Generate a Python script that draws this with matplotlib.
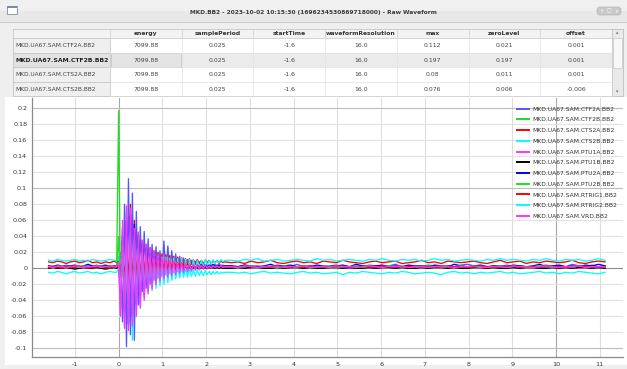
import numpy as np
import matplotlib
matplotlib.use("Agg")
import matplotlib.pyplot as plt
from matplotlib.patches import Rectangle, FancyBboxPatch

W, H = 627, 369

window_title = "MKD.BB2 - 2023-10-02 10:15:30 (1696234530869718000) - Raw Waveform"

# ---- table data
columns = ["energy", "samplePeriod", "startTime", "waveformResolution", "max", "zeroLevel", "offset"]
row_names = ["MKD.UA67.SAM.CTF2A.BB2", "MKD.UA67.SAM.CTF2B.BB2",
             "MKD.UA67.SAM.CTS2A.BB2", "MKD.UA67.SAM.CTS2B.BB2"]
energy = [7099.88, 7099.88, 7099.88, 7099.88]
sample_period = [0.025, 0.025, 0.025, 0.025]
start_time = [-1.6, -1.6, -1.6, -1.6]
waveform_resolution = [16.0, 16.0, 16.0, 16.0]
max_values = [0.112, 0.197, 0.08, 0.076]
zero_level = [0.021, 0.197, 0.011, 0.006]
offset = [0.001, 0.001, 0.001, -0.006]

# ---- waveforms, values in thousandths
# pre: -1.6 .. -0.1, event: from -0.045 in steps of 0.045, tail: 2.55 .. 11.1
channels = ["MKD.UA67.SAM.CTF2A.BB2", "MKD.UA67.SAM.CTF2B.BB2", "MKD.UA67.SAM.CTS2A.BB2",
            "MKD.UA67.SAM.CTS2B.BB2", "MKD.UA67.SAM.PTU1A.BB2", "MKD.UA67.SAM.PTU1B.BB2",
            "MKD.UA67.SAM.PTU2A.BB2", "MKD.UA67.SAM.PTU2B.BB2", "MKD.UA67.SAM.RTRIG1.BB2",
            "MKD.UA67.SAM.RTRIG2.BB2", "MKD.UA67.SAM.VRD.BB2"]
colors = ["#5555ff", "#22dd22", "#ff0000", "#00ffff", "#ff33ff", "#000000",
          "#0000ee", "#22dd22", "#ff0000", "#00ffff", "#ff33ff"]

ctf2a_pre = [2, 3, 1, 2, 4, 2, 3, 1, 2, 3, 2, 4, 2, 1, 3, 2]
ctf2a_event = [2, 5, 20, -67, 80, -98, 112, -83, 94, -90,
               71, -46, 52, -29, 46, -25, 37, -20, 30, -15,
               27, -12, 22, -10, 34, -8, 28, -6, 22, -5,
               18, -4, 15, -3, 13, -2, 11, -1, 10, 0,
               9, 0, 8, 1, 7, 1, 6, 1, 6, 2,
               5, 2, 5, 2, 4, 3]
ctf2a_tail = [3, 2, 4, 2, 3, 1, 2, 4, 3, 2, 5, 2, 3, 1, 2, 3, 4, 2, 1, 3,
              2, 4, 3, 2, 3, 5, 2, 3, 1, 2, 4, 3, 2, 3, 2, 4, 5, 3, 2, 1,
              3, 2, 4, 2, 3, 2, 1, 3, 4, 2, 3, 2, 5, 3, 2, 4, 2, 3]

ctf2b_pre = [1, 0, 2, 1, 1, 2, 0, 1, 2, 1, 0, 1, 2, 1, 1, 0]
ctf2b_event = [1, 197, -50, 40, -35, 30, -28, 45, -20, 38,
               -18, 25, -15, 20, -12, 15, -10, 12, -8, 10,
               -6, 9, -5, 8, -4, 7, -3, 6, -2, 5,
               -2, 4, -1, 4, 0, 3, 0, 3, 1, 3,
               1, 2, 1, 2, 1, 2, 0, 2, 1, 2,
               0, 2, 1, 1, 0, 1]
ctf2b_tail = [1, 0, 2, 1, 1, 0, 2, 1, 0, 1, 2, 1, 0, 1, 2, 0, 1, 1, 2, 0,
              1, 2, 1, 0, 1, 1, 2, 1, 0, 2, 1, 0, 1, 2, 1, 1, 0, 2, 1, 1,
              0, 1, 2, 1, 0, 1, 1, 2, 0, 1, 1, 2, 1, 0, 1, 2, 1, 1]

cts2a_pre = [8, 7, 9, 8, 6, 8, 9, 7, 8, 10, 7, 8, 6, 8, 7, 9]
cts2a_event = [7, 10, -20, 35, -50, 60, -45, 80, -55, 60,
               -40, 45, -35, 35, -25, 30, -20, 26, -15, 22,
               -10, 20, -8, 18, -5, 17, -3, 16, -2, 15,
               0, 14, 2, 13, 3, 12, 4, 12, 5, 11,
               5, 11, 6, 10, 6, 10, 7, 10, 6, 9,
               7, 10, 6, 9, 7, 8]
cts2a_tail = [7, 8, 6, 9, 7, 8, 10, 7, 6, 8, 9, 7, 8, 6, 9, 8, 7, 10, 8, 7,
              6, 8, 9, 7, 8, 9, 6, 7, 8, 10, 7, 8, 6, 9, 8, 7, 8, 9, 7, 6,
              8, 10, 7, 8, 9, 6, 8, 7, 9, 8, 7, 8, 10, 7, 6, 8, 9, 8]

cts2b_pre = [10, 9, 11, 10, 9, 10, 11, 9, 10, 9, 11, 10, 9, 10, 11, 10]
cts2b_event = [9, 15, -30, 50, -60, 76, -70, 60, -90, 50,
               -55, 35, -45, 25, -35, 20, -30, 18, -28, 16,
               -25, 15, -22, 14, -20, 14, -18, 13, -15, 13,
               -12, 12, -10, 12, -8, 11, -6, 11, -4, 11,
               -2, 10, 0, 10, 2, 11, 4, 10, 5, 11,
               6, 10, 7, 11, 8, 10]
cts2b_tail = [10, 9, 11, 10, 12, 9, 10, 11, 9, 10, 11, 10, 9, 12, 10, 11, 9, 10, 11, 10,
              9, 11, 10, 12, 10, 9, 11, 10, 11, 9, 10, 12, 10, 11, 9, 10, 11, 10, 9, 11,
              10, 12, 10, 11, 10, 9, 11, 10, 12, 10, 9, 11, 10, 11, 9, 10, 12, 10]

ptu1a_pre = [1, 2, 0, 1, 2, 1, 3, 1, 0, 2, 1, 1, 2, 0, 1, 2]
ptu1a_event = [1, 5, -60, 60, -75, 78, -70, 75, -65, 55,
               -50, 45, -45, 35, -35, 30, -28, 25, -22, 20,
               -18, 17, -15, 14, -12, 12, -10, 10, -8, 9,
               -7, 8, -6, 7, -5, 6, -4, 5, -3, 4,
               -2, 4, -2, 3, -1, 3, -1, 3, 0, 2,
               0, 2, 1, 2, 0, 1]
ptu1a_tail = [1, 2, 0, 1, 2, 1, 0, 2, 1, 1, 2, 0, 1, 2, 1, 1, 3, 1, 0, 1,
              2, 1, 1, 0, 2, 1, 2, 1, 0, 1, 1, 2, 0, 1, 2, 1, 1, 2, 0, 1,
              2, 1, 0, 1, 1, 2, 1, 0, 2, 1, 1, 2, 1, 0, 1, 2, 1, 1]

ptu1b_pre = [0, 1, 0, 0, 1, 0, -1, 0, 1, 0, 0, 1, 0, -1, 0, 1]
ptu1b_event = [0, 3, -20, 25, -30, 30, -25, 28, -22, 20,
               -18, 15, -14, 12, -10, 10, -8, 8, -6, 6,
               -5, 5, -4, 4, -3, 4, -3, 3, -2, 3,
               -2, 2, -1, 2, -1, 2, 0, 1, 0, 1,
               0, 1, 0, 1, 0, 1, 0, 1, 0, 1,
               0, 1, 0, 1, 0, 0]
ptu1b_tail = [0, 1, 0, 1, 1, 0, 0, 1, 0, 1, 1, 0, 1, 0, 0, 1, 1, 0, 1, 0,
              0, 1, 0, 1, 1, 0, 1, 0, 0, 1, 0, 1, 1, 0, 1, 0, 0, 1, 1, 0,
              1, 0, 0, 1, 0, 1, 1, 0, 0, 1, 0, 1, 0, 1, 1, 0, 1, 0]

ptu2a_pre = [3, 2, 4, 3, 2, 3, 4, 2, 3, 5, 3, 2, 3, 4, 2, 3]
ptu2a_event = [3, 8, -30, 40, -55, 60, -70, 65, -60, 55,
               -45, 40, -35, 30, -28, 25, -20, 18, -15, 15,
               -12, 12, -10, 10, -8, 9, -7, 8, -6, 7,
               -5, 6, -4, 6, -3, 5, -2, 5, -1, 4,
               0, 4, 1, 5, 1, 4, 2, 4, 2, 5,
               2, 4, 3, 4, 2, 3]
ptu2a_tail = [3, 2, 4, 3, 2, 3, 5, 2, 3, 4, 2, 3, 2, 4, 3, 2, 3, 4, 2, 5,
              3, 2, 3, 4, 2, 3, 2, 4, 3, 3, 2, 4, 3, 2, 5, 3, 2, 3, 4, 2,
              3, 3, 2, 4, 3, 2, 3, 5, 2, 3, 4, 2, 3, 2, 4, 3, 5, 3]

ptu2b_pre = [2, 1, 2, 3, 1, 2, 2, 1, 3, 2, 1, 2, 3, 2, 1, 2]
ptu2b_event = [2, 40, -40, 30, -45, 35, -40, 30, -30, 40,
               -25, 22, -20, 18, -15, 15, -12, 12, -10, 10,
               -8, 8, -6, 7, -5, 6, -4, 5, -3, 5,
               -2, 4, -1, 4, 0, 3, 1, 3, 1, 3,
               2, 3, 2, 2, 2, 3, 1, 2, 2, 3,
               1, 2, 2, 3, 1, 2]
ptu2b_tail = [2, 1, 2, 3, 1, 2, 2, 1, 3, 2, 1, 2, 2, 1, 3, 2, 1, 2, 2, 3,
              1, 2, 1, 2, 3, 2, 1, 2, 2, 1, 3, 2, 1, 2, 2, 3, 1, 2, 1, 2,
              2, 3, 1, 2, 2, 1, 2, 3, 2, 1, 2, 2, 1, 3, 2, 1, 2, 2]

rtrig1_pre = [1, 2, 1, 0, 2, 1, 1, 3, 1, 0, 1, 2, 1, 1, 0, 2]
rtrig1_event = [1, 5, -25, 30, -35, 40, -30, 35, -30, 30,
                -25, 25, -20, 20, -15, 18, -12, 15, -10, 12,
                -8, 10, -6, 9, -5, 8, -4, 7, -3, 6,
                -2, 5, -1, 5, 0, 4, 0, 4, 1, 3,
                1, 3, 1, 3, 2, 3, 1, 2, 2, 3,
                1, 2, 2, 3, 1, 2]
rtrig1_tail = [2, 1, 3, 2, 1, 2, 2, 3, 1, 2, 2, 1, 3, 2, 2, 1, 2, 3, 2, 1,
               2, 2, 1, 3, 2, 1, 2, 2, 3, 1, 2, 1, 2, 3, 2, 2, 1, 2, 3, 2,
               1, 2, 2, 3, 1, 2, 2, 1, 3, 2, 2, 1, 2, 3, 2, 1, 2, 2]

rtrig2_pre = [-5, -6, -4, -5, -7, -5, -4, -6, -5, -4, -6, -5, -7, -5, -4, -5]
rtrig2_event = [-5, 0, -25, 30, -45, 40, -60, 45, -50, 35,
                -40, 25, -30, 20, -28, 15, -25, 12, -22, 10,
                -20, 8, -18, 6, -16, 5, -15, 4, -14, 3,
                -13, 2, -12, 1, -11, 0, -11, -1, -10, -2,
                -10, -2, -9, -3, -9, -3, -8, -4, -8, -4,
                -7, -4, -7, -5, -6, -5]
rtrig2_tail = [-5, -6, -5, -7, -5, -4, -6, -5, -6, -7, -5, -4, -6, -5, -7, -6, -5, -8, -5, -6,
               -4, -5, -6, -7, -5, -6, -4, -5, -7, -6, -5, -6, -8, -5, -4, -6, -5, -7, -5, -6,
               -5, -4, -6, -5, -7, -6, -5, -4, -6, -5, -7, -5, -6, -4, -5, -6, -7, -5]

vrd_pre = [2, 1, 3, 2, 1, 2, 3, 2, 1, 2, 2, 3, 1, 2, 3, 2]
vrd_event = [2, 8, -50, 50, -70, 70, -78, 65, -72, 50,
             -60, 40, -50, 30, -40, 25, -32, 20, -26, 16,
             -20, 14, -16, 12, -13, 10, -11, 9, -9, 8,
             -8, 7, -6, 6, -5, 6, -4, 5, -3, 5,
             -2, 4, -1, 4, -1, 4, 0, 3, 0, 3,
             1, 3, 1, 3, 1, 2]
vrd_tail = [2, 1, 3, 2, 1, 2, 3, 2, 1, 2, 2, 3, 1, 2, 2, 1, 3, 2, 2, 1,
            2, 3, 2, 1, 2, 2, 3, 1, 2, 2, 1, 2, 3, 2, 1, 2, 2, 3, 2, 1,
            2, 2, 1, 3, 2, 2, 1, 2, 3, 2, 1, 2, 2, 3, 1, 2, 2, 2]

series = [
    (ctf2a_pre, ctf2a_event, ctf2a_tail), (ctf2b_pre, ctf2b_event, ctf2b_tail),
    (cts2a_pre, cts2a_event, cts2a_tail), (cts2b_pre, cts2b_event, cts2b_tail),
    (ptu1a_pre, ptu1a_event, ptu1a_tail), (ptu1b_pre, ptu1b_event, ptu1b_tail),
    (ptu2a_pre, ptu2a_event, ptu2a_tail), (ptu2b_pre, ptu2b_event, ptu2b_tail),
    (rtrig1_pre, rtrig1_event, rtrig1_tail), (rtrig2_pre, rtrig2_event, rtrig2_tail),
    (vrd_pre, vrd_event, vrd_tail),
]


def times(pre, event, tail):
    t1 = np.linspace(-1.6, -0.1, len(pre))
    t2 = -0.045 + 0.045 * np.arange(len(event))
    t3 = np.linspace(t2[-1] + 0.15, 11.12, len(tail))
    return np.concatenate([t1, t2, t3])


fig = plt.figure(figsize=(W / 100, H / 100), dpi=100, facecolor="#efefef")

# overlay in pixel coordinates for the window chrome and the table
bg = fig.add_axes([0, 0, 1, 1])
bg.set_xlim(0, W)
bg.set_ylim(H, 0)
bg.axis("off")

# title bar
bg.add_patch(Rectangle((0, 2), W, 20, facecolor="#e8e8e8", edgecolor="none"))
bg.add_patch(Rectangle((0, 2), W, 9, facecolor="#f0f0f0", edgecolor="none"))
bg.plot([0, W], [22, 22], color="#c8c8c8", lw=0.6)
bg.add_patch(Rectangle((7, 6), 10, 8, facecolor="white", edgecolor="#7a8aa8", lw=0.6))
bg.add_patch(Rectangle((7, 6), 10, 2, facecolor="#7a8aa8", edgecolor="none"))
bg.text(313, 12.5, window_title, ha="center", va="center", fontsize=4.2,
        fontweight="bold", color="#3a3a3a")
bg.add_patch(FancyBboxPatch((597, 7), 24, 8, boxstyle="round,pad=0,rounding_size=3",
                            facecolor="#c9c9c9", edgecolor="#b5b5b5", lw=0.5))
for bx, sym in zip([602, 609, 616], ["\u2191", "\u25a1", "\u00d7"]):
    bg.text(bx, 11.2, sym, ha="center", va="center", fontsize=3.5, color="white")

# table
tx0, tx1, tx_end, sb = 13, 110, 612, 623
ty0, ty_head = 28.5, 38
row_h = 14.5
col_w = (tx_end - tx1) / len(columns)
table_rows = list(zip(energy, sample_period, start_time, waveform_resolution,
                      max_values, zero_level, offset))
bg.add_patch(Rectangle((tx0, ty0), sb - tx0, ty_head - ty0 + row_h * 4,
                       facecolor="white", edgecolor="#b8b8b8", lw=0.6))
bg.add_patch(Rectangle((tx0, ty0), tx_end - tx0, ty_head - ty0,
                       facecolor="#f3f3f3", edgecolor="#c8c8c8", lw=0.5))
for j, name in enumerate(columns):
    cx = tx1 + col_w * (j + 0.5)
    bg.text(cx, (ty0 + ty_head) / 2 + 0.3, name, ha="center", va="center",
            fontsize=4.3, fontweight="bold", color="#333333")
    bg.plot([tx1 + col_w * j] * 2, [ty0 + 1, ty_head - 1], color="#cfcfcf", lw=0.5)
for i, (name, vals) in enumerate(zip(row_names, table_rows)):
    y0 = ty_head + row_h * i
    sel = i == 1
    if sel:
        bg.add_patch(Rectangle((tx1, y0), tx_end - tx1, row_h, facecolor="#ebebeb",
                               edgecolor="none"))
        bg.add_patch(Rectangle((tx1 + 0.5, y0 + 0.5), col_w - 1, row_h - 1,
                               facecolor="#e4e4e4", edgecolor="#c4c4c4", lw=0.5))
    bg.add_patch(Rectangle((tx0, y0), tx1 - tx0, row_h,
                           facecolor="#e2e2e2" if sel else "#efefef",
                           edgecolor="#c4c4c4", lw=0.5))
    bg.text(tx0 + 2, y0 + row_h / 2 + 0.3, name, ha="left", va="center",
            fontsize=4.2 if not sel else 4.4, color="#222222" if sel else "#444444",
            fontweight="bold" if sel else "normal")
    for j, v in enumerate(vals):
        bg.text(tx1 + col_w * (j + 0.5), y0 + row_h / 2 + 0.3, str(v), ha="center",
                va="center", fontsize=4.4, color="#444444")
    bg.plot([tx1, tx_end], [y0 + row_h] * 2, color="#dedede", lw=0.5)
for j in range(1, len(columns)):
    bg.plot([tx1 + col_w * j] * 2, [ty_head, ty_head + row_h * 4], color="#e2e2e2", lw=0.5)
# scrollbar
bg.add_patch(Rectangle((tx_end, ty0), sb - tx_end, row_h * 4 + ty_head - ty0,
                       facecolor="#e9e9e9", edgecolor="#c0c0c0", lw=0.5))
bg.add_patch(Rectangle((tx_end + 1, ty0 + 9), sb - tx_end - 2, 30,
                       facecolor="#f7f7f7", edgecolor="#c8c8c8", lw=0.5))
bg.text((tx_end + sb) / 2, ty0 + 4, "\u25b4", ha="center", va="center", fontsize=3.5, color="#777777")
bg.text((tx_end + sb) / 2, ty_head + row_h * 4 - 4, "\u25be", ha="center", va="center",
        fontsize=3.5, color="#777777")

# plot panel
bg.add_patch(Rectangle((5, 97), W - 5, 268, facecolor="white", edgecolor="none"))

# ---- waveform plot
x_px0, x_px1, y_px0, y_px1 = 32, 623, 98, 357
ax = fig.add_axes([x_px0 / W, 1 - y_px1 / H, (x_px1 - x_px0) / W, (y_px1 - y_px0) / H])
ax.set_facecolor("white")
ax.set_xlim(-1.98, 11.53)
ax.set_ylim(-0.1109, 0.2129)

for xv in range(-1, 12):
    ax.axvline(xv, color="#a8a8a8" if xv in (0, 10) else "#dddddd", lw=0.8, zorder=0)
for k in range(-5, 11):
    yv = k * 0.02
    if k == 0:
        col = "#8c8c8c"
    elif k % 5 == 0:
        col = "#bdbdbd"
    else:
        col = "#e2e2e2"
    ax.axhline(yv, color=col, lw=0.8, zorder=0 if k else 0.5)

lines = []
for name, col, (pre, event, tail) in zip(channels, colors, series):
    t = times(pre, event, tail)
    y = np.concatenate([pre, event, tail]) / 1000.0
    ln, = ax.plot(t, y, color=col, lw=0.95, label=name)
    lines.append(ln)

ax.set_xticks(range(-1, 12))
ax.set_xticklabels([str(v) for v in range(-1, 12)])
yt = [k * 0.02 for k in range(-5, 11)]
ax.set_yticks(yt)
ax.set_yticklabels(["%g" % round(v, 2) for v in yt])
ax.tick_params(length=0, labelsize=4.6, colors="#333333", pad=3.5)
for s in ("top", "right"):
    ax.spines[s].set_visible(False)
for s in ("left", "bottom"):
    ax.spines[s].set_color("#8a8a8a")
    ax.spines[s].set_linewidth(0.9)

leg = ax.legend(handles=lines, loc="upper left", bbox_to_anchor=(517 / W, 1 - 106.5 / H),
                bbox_transform=fig.transFigure, frameon=False, fontsize=4.3,
                handlelength=2.0, handletextpad=0.5, labelspacing=0.93,
                borderaxespad=0, borderpad=0)
for txt in leg.get_texts():
    txt.set_color("#333333")
for h in leg.legend_handles:
    h.set_linewidth(1.4)

fig.savefig("out.png", dpi=100, facecolor=fig.get_facecolor())
